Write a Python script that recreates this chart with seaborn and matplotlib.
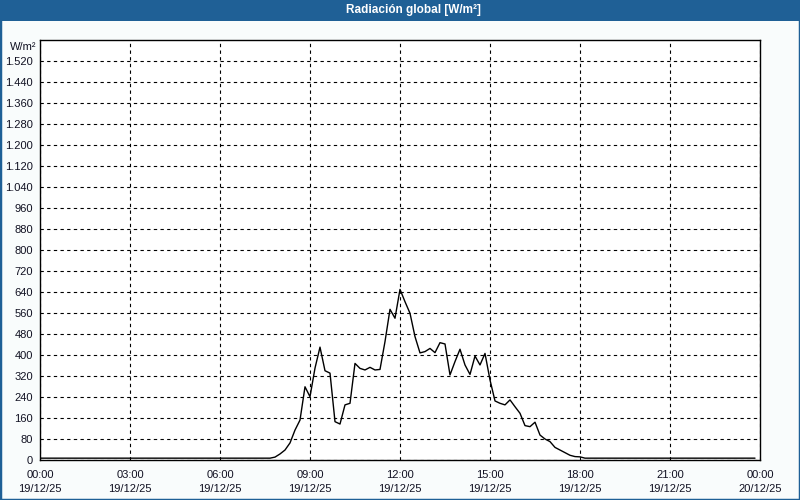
import pandas as pd
import matplotlib
matplotlib.use("Agg")
from matplotlib import pyplot as plt
import matplotlib.dates as mdates
from matplotlib.patches import Rectangle
from matplotlib.ticker import FuncFormatter, MultipleLocator
import seaborn as sns

sns.set_style("white")
plt.rcParams['font.family'] = ['Liberation Sans', 'DejaVu Sans']

# Data: global radiation every 10 minutes, 19/12/25 00:00 -> 23:50
inicio = "2025-12-19 00:00"
fin = "2025-12-20 00:00"
radiacion = [
    7, 7, 7, 7, 7, 7, 7, 7, 7, 7, 7, 7,                             # 00:00-01:50
    7, 7, 7, 7, 7, 7, 7, 7, 7, 7, 7, 7,                             # 02:00-03:50
    7, 7, 7, 7, 7, 7, 7, 7, 7, 7, 7, 7,                             # 04:00-05:50
    7, 7, 7, 7, 7, 7, 7, 7, 7, 7, 7, 11,                            # 06:00-07:50
    23, 38, 65, 114, 152, 279, 241, 350, 430, 340, 331, 146,        # 08:00-09:50
    137, 210, 216, 368, 349, 343, 353, 343, 345, 451, 574, 540,     # 10:00-11:50
    650, 603, 559, 470, 408, 413, 425, 409, 447, 442, 324, 375,     # 12:00-13:50
    422, 362, 326, 396, 362, 406, 305, 225, 216, 210, 229, 203,     # 14:00-15:50
    178, 131, 127, 144, 95, 80, 70, 48, 38, 28, 18, 13,             # 16:00-17:50
    12, 7, 7, 7, 7, 7, 7, 7, 7, 7, 7, 7,                            # 18:00-19:50
    7, 7, 7, 7, 7, 7, 7, 7, 7, 7, 7, 7,                             # 20:00-21:50
    7, 7, 7, 7, 7, 7, 7, 7, 7, 7, 7, 7,                             # 22:00-23:50
]
titulo = "Radiación global [W/m²]"
unidad = "W/m²"

df = pd.DataFrame({
    "fecha": pd.date_range(inicio, periods=len(radiacion), freq="10min"),
    "valor": radiacion,
})

azul = "#1f6096"
fig = plt.figure(figsize=(8, 5), dpi=100, facecolor="#f9fcfc")
ax = fig.add_axes([40 / 800, 40 / 500, 720 / 800, 420 / 500])
ax.set_facecolor("white")

sns.lineplot(data=df, x="fecha", y="valor", ax=ax, color="black", linewidth=1.0)

# Axes limits and ticks
ax.set_xlim(pd.Timestamp(inicio), pd.Timestamp(fin))
ax.set_ylim(0, 1600)
ax.set_yticks(range(0, 1600, 80))
ax.yaxis.set_major_formatter(FuncFormatter(lambda v, p: f"{v:,.0f}".replace(",", ".")))
ax.xaxis.set_major_locator(mdates.HourLocator(byhour=range(0, 24, 3)))
ax.xaxis.set_minor_locator(mdates.HourLocator())
ax.xaxis.set_major_formatter(mdates.DateFormatter("%H:%M\n%d/%m/%y"))
ax.tick_params(axis="both", which="both", direction="out", length=3, width=0.8,
               colors="black", labelsize=8, labelcolor="#111122")
ax.tick_params(axis="x", which="major", pad=4)
ax.tick_params(axis="y", pad=2)
for lbl in ax.get_xticklabels():
    lbl.set_linespacing(1.5)
ax.set_xlabel("")
ax.set_ylabel("")

# Dashed grid
ax.grid(True, which="major", color="black", linestyle=(0, (3, 3)), linewidth=0.8)
for s in ax.spines.values():
    s.set_color("black")
    s.set_linewidth(1.0)

# Unit label top left
fig.text(36 / 800, 1 - 47 / 500, unidad, ha="right", va="center", fontsize=8, color="#111122")

# Title bar and frame
fig.patches.append(Rectangle((0, 1 - 21 / 500), 1, 21 / 500, transform=fig.transFigure,
                             facecolor=azul, edgecolor="none", zorder=0))
fig.patches.append(Rectangle((0, 0), 1, 1, transform=fig.transFigure, fill=False,
                             edgecolor=azul, linewidth=2.5, zorder=1))
fig.text(413 / 800, 1 - 10.5 / 500, titulo, ha="center", va="center",
         fontsize=8.5, fontweight="bold", color="white")

fig.savefig("out.png", dpi=100, facecolor=fig.get_facecolor())
